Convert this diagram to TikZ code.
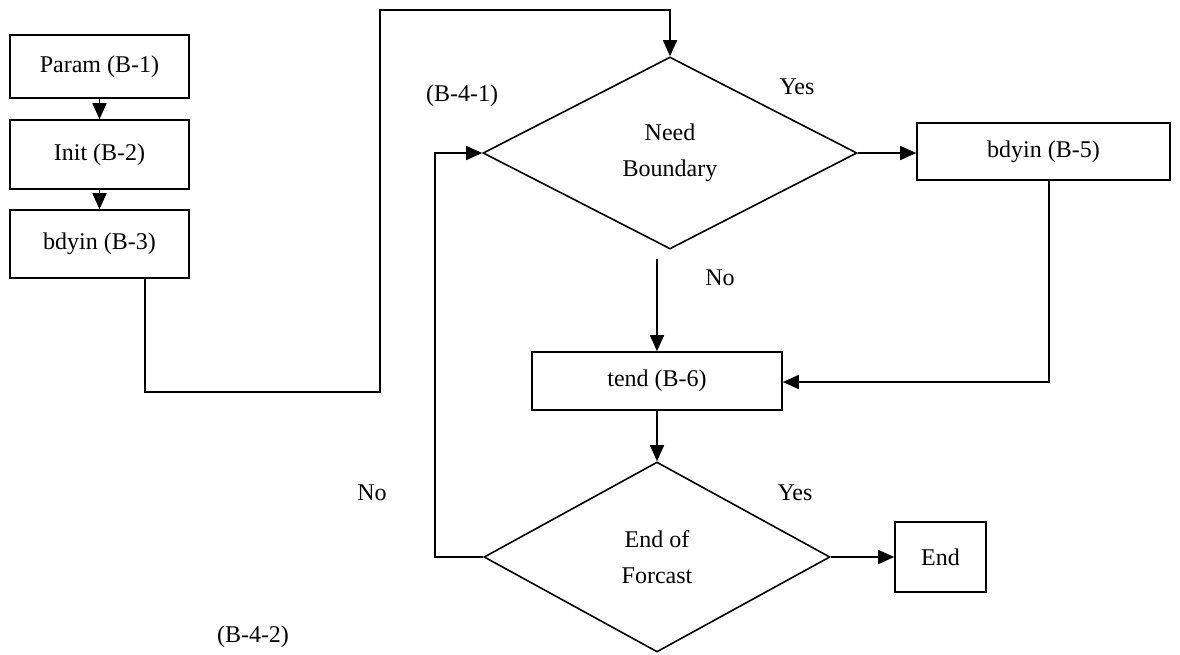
\documentclass[tikz,border=0pt]{standalone}
\usepackage{fontspec}
\setmainfont{Liberation Serif}
\usetikzlibrary{shapes.geometric,arrows.meta,calc}
\begin{document}
\begin{tikzpicture}[x=1pt,y=-1pt,
  every node/.style={font=\fontsize{24}{28}\selectfont},
  box/.style={draw,line width=1.6pt,inner sep=0pt},
  decision/.style={draw,line width=1.6pt,shape=diamond,inner sep=0pt,align=center,
    font=\fontsize{24}{36}\selectfont},
  arr/.style={line width=1.6pt,-{Triangle[length=16pt,width=14pt]}},
  lbl/.style={inner sep=0pt}]
\useasboundingbox (0,0) rectangle (1180,654);

% process boxes
\node[box,minimum width=179pt,minimum height=63pt] (b1) at (99.5,66.5) {Param (B-1)};
\node[box,minimum width=179pt,minimum height=69pt] (b2) at (99.5,154.5) {Init (B-2)};
\node[box,minimum width=179pt,minimum height=68pt] (b3) at (99.5,244) {bdyin (B-3)};
\node[box,minimum width=253pt,minimum height=57pt] (b5) at (1043.5,151.5) {bdyin (B-5)};
\node[box,minimum width=250pt,minimum height=58pt] (t) at (657,381) {tend (B-6)};
\node[box,minimum width=91pt,minimum height=70pt] (e) at (940.5,557) {End};

% decisions
\node[decision,minimum width=374pt,minimum height=192pt,aspect=1.95] (d1) at (670,153) {Need\\Boundary};
\node[decision,minimum width=346pt,minimum height=190pt,aspect=1.82] (d2) at (657,557) {End of\\Forcast};

% bend points
\coordinate (k1) at (145,392);
\coordinate (k2) at (380,392);
\coordinate (k3) at (380,10);
\coordinate (k4) at (670,10);
\coordinate (k5) at (435,557);
\coordinate (k6) at (1049,382);

% connectors
\draw[arr] (b1) -- (b2);
\draw[arr] (b2) -- (b3);
\draw[arr] (k1 |- b3.south) -- (k1) -- (k2) -- (k3) -- (k4) -- (d1.north);
\draw[arr] (d1.east) -- (b5.west |- d1.east);
\draw[arr] (k6 |- b5.south) -- (k6) -- (t.east |- k6);
\draw[arr,shorten <=9pt] (t.north |- d1.south) -- (t.north);
\draw[arr] (t.south) -- (d2.north);
\draw[arr] (d2.west) -- (k5) |- (d1.west);
\draw[arr] (d2.east) -- (e.west);

% labels
\node[lbl] (l1) at (462,96) {(B-4-1)};
\node[lbl] (l2) at (797,87) {Yes};
\node[lbl] (l3) at (720,278) {No};
\node[lbl] (l4) at (372,493) {No};
\node[lbl] (l5) at (795,493) {Yes};
\node[lbl] (l6) at (253,637) {(B-4-2)};
\end{tikzpicture}
\end{document}
